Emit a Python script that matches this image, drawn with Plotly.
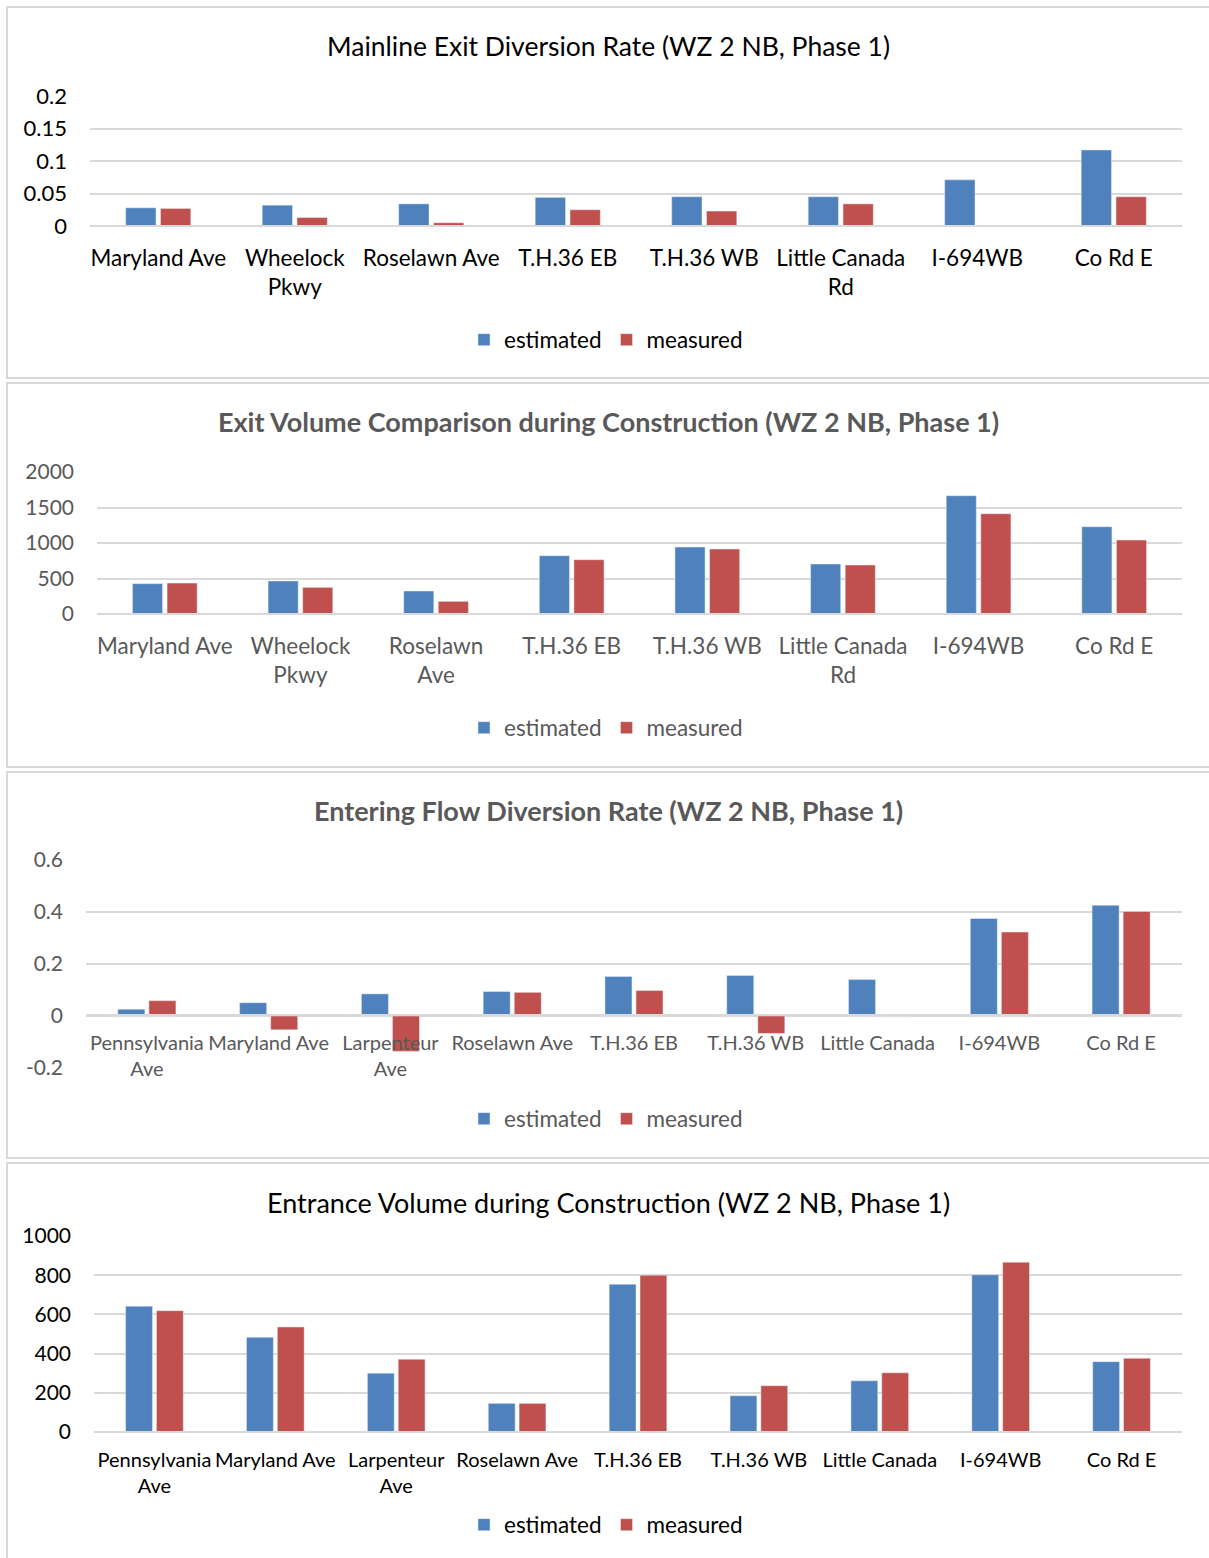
import plotly.graph_objects as go

# ---------------- data ----------------
series_names = ["estimated", "measured"]

cats1 = ["Maryland Ave", "Wheelock<br>Pkwy", "Roselawn Ave", "T.H.36 EB", "T.H.36 WB",
         "Little Canada<br>Rd", "I-694WB", "Co Rd E"]
est1 = [0.028, 0.032, 0.034, 0.044, 0.045, 0.045, 0.071, 0.117]
meas1 = [0.027, 0.013, 0.005, 0.025, 0.023, 0.034, 0.0, 0.045]
yt1 = [0, 0.05, 0.1, 0.15, 0.2]
ytt1 = ["0", "0.05", "0.1", "0.15", "0.2"]

cats2 = ["Maryland Ave", "Wheelock<br>Pkwy", "Roselawn<br>Ave", "T.H.36 EB", "T.H.36 WB",
         "Little Canada<br>Rd", "I-694WB", "Co Rd E"]
est2 = [427, 465, 324, 821, 943, 704, 1666, 1229]
meas2 = [436, 375, 178, 765, 915, 690, 1412, 1041]
yt2 = [0, 500, 1000, 1500, 2000]
ytt2 = ["0", "500", "1000", "1500", "2000"]

cats3 = ["Pennsylvania<br>Ave", "Maryland Ave", "Larpenteur<br>Ave", "Roselawn Ave", "T.H.36 EB",
         "T.H.36 WB", "Little Canada", "I-694WB", "Co Rd E"]
est3 = [0.026, 0.051, 0.085, 0.094, 0.152, 0.156, 0.140, 0.375, 0.426]
meas3 = [0.059, -0.053, -0.136, 0.091, 0.098, -0.067, 0.005, 0.323, 0.402]
yt3 = [-0.2, 0, 0.2, 0.4, 0.6]
ytt3 = ["-0.2", "0", "0.2", "0.4", "0.6"]

cats4 = ["Pennsylvania<br>Ave", "Maryland Ave", "Larpenteur<br>Ave", "Roselawn Ave", "T.H.36 EB",
         "T.H.36 WB", "Little Canada", "I-694WB", "Co Rd E"]
est4 = [642, 483, 300, 146, 754, 185, 261, 802, 359]
meas4 = [619, 536, 371, 146, 800, 236, 302, 866, 376]
yt4 = [0, 200, 400, 600, 800, 1000]
ytt4 = ["0", "200", "400", "600", "800", "1000"]

titles = ["Mainline Exit Diversion Rate (WZ 2 NB, Phase 1)",
          "<b>Exit Volume Comparison during Construction (WZ 2 NB, Phase 1)</b>",
          "<b>Entering Flow Diversion Rate (WZ 2 NB, Phase 1)</b>",
          "Entrance Volume during Construction (WZ 2 NB, Phase 1)"]

# ---------------- layout helpers ----------------
W, H = 1209, 1558
FONT = "Lato"
BLUE = "#4F81BD"
RED = "#C0504D"
GRID = "#D9D9D9"
GRAY = "#595959"
BLACK = "#000000"


def px_x(p):
    return p / W


def px_y(p):
    return 1 - p / H


panels = [
    dict(cats=cats1, est=est1, meas=meas1, yt=yt1, ytt=ytt1, rng=[0, 0.2],
         x=(90, 1182), y0=226, ytop=96, ybot=226, col=BLACK, title_y=46, leg_y=340,
         box=(7, 378), xfs=22.5, yfs=22, xstand=12),
    dict(cats=cats2, est=est2, meas=meas2, yt=yt2, ytt=ytt2, rng=[0, 2000],
         x=(97, 1182), y0=614, ytop=472, ybot=614, col=GRAY, title_y=422, leg_y=728,
         box=(383, 767), xfs=22.5, yfs=21, xstand=12),
    dict(cats=cats3, est=est3, meas=meas3, yt=yt3, ytt=ytt3, rng=[-0.2, 0.6],
         x=(86, 1182), y0=1015, ytop=860, ybot=1068, col=GRAY, title_y=810, leg_y=1119,
         box=(772, 1158), xfs=20, yfs=21, xstand=10),
    dict(cats=cats4, est=est4, meas=meas4, yt=yt4, ytt=ytt4, rng=[0, 1000],
         x=(94, 1182), y0=1432, ytop=1236, ybot=1432, col=BLACK, title_y=1202, leg_y=1525,
         box=(1163, 1570), xfs=20, yfs=21, xstand=10),
]

fig = go.Figure()
layout = dict(
    width=W, height=H, margin=dict(l=0, r=0, t=0, b=0, autoexpand=False),
    paper_bgcolor="white", plot_bgcolor="white",
    barmode="group", bargap=0.49, bargroupgap=0.13,
    font=dict(family=FONT, size=20, color=BLACK),
    shapes=[], annotations=[], showlegend=True,
)

for i, p in enumerate(panels, start=1):
    sfx = "" if i == 1 else str(i)
    leg = "legend" if i == 1 else f"legend{i}"
    fig.add_trace(go.Bar(x=p["cats"], y=p["est"], name=series_names[0], marker_color=BLUE,
                         xaxis=f"x{sfx}", yaxis=f"y{sfx}", legend=leg))
    fig.add_trace(go.Bar(x=p["cats"], y=p["meas"], name=series_names[1], marker_color=RED,
                         xaxis=f"x{sfx}", yaxis=f"y{sfx}", legend=leg))
    xd = [px_x(p["x"][0]), px_x(p["x"][1])]
    yd = [px_y(p["ybot"]), px_y(p["ytop"])]
    layout[f"xaxis{sfx}"] = dict(
        domain=xd, anchor="free", position=px_y(p["y0"]), automargin=False,
        showgrid=False, zeroline=False, showline=True, linecolor=GRID, linewidth=1.5,
        ticks="", ticklabelstandoff=p["xstand"],
        tickfont=dict(family=FONT, size=p["xfs"], color=p["col"]),
        fixedrange=True,
    )
    layout[f"yaxis{sfx}"] = dict(
        domain=yd, anchor=f"x{sfx}", range=p["rng"], tickvals=p["yt"], ticktext=p["ytt"],
        automargin=False,
        showgrid=True, gridcolor=GRID, gridwidth=1.5, zeroline=False, showline=False,
        ticks="", ticklabelstandoff=22,
        tickfont=dict(family=FONT, size=p["yfs"], color=p["col"]),
        fixedrange=True,
    )
    layout[leg] = dict(
        orientation="h", x=px_x(464), xanchor="left", y=px_y(p["leg_y"]), yanchor="middle",
        font=dict(family=FONT, size=22.5, color=p["col"]), bgcolor="rgba(0,0,0,0)",
        itemwidth=30, tracegroupgap=0, traceorder="normal",
    )
    layout["annotations"].append(dict(
        text=titles[i - 1], xref="paper", yref="paper", x=px_x(608), y=px_y(p["title_y"]),
        xanchor="center", yanchor="middle", showarrow=False,
        font=dict(family=FONT, size=27 if i > 1 else 26.5, color=p["col"]),
    ))
    layout["shapes"].append(dict(
        type="rect", xref="paper", yref="paper",
        x0=px_x(7), x1=px_x(1212), y0=px_y(p["box"][1]), y1=px_y(p["box"][0]),
        line=dict(color=GRID, width=2), fillcolor="rgba(0,0,0,0)", layer="below",
    ))

fig.update_layout(**layout)
fig.write_html("out.html", config={"displayModeBar": False},
               post_script="document.body.style.margin='0';")
